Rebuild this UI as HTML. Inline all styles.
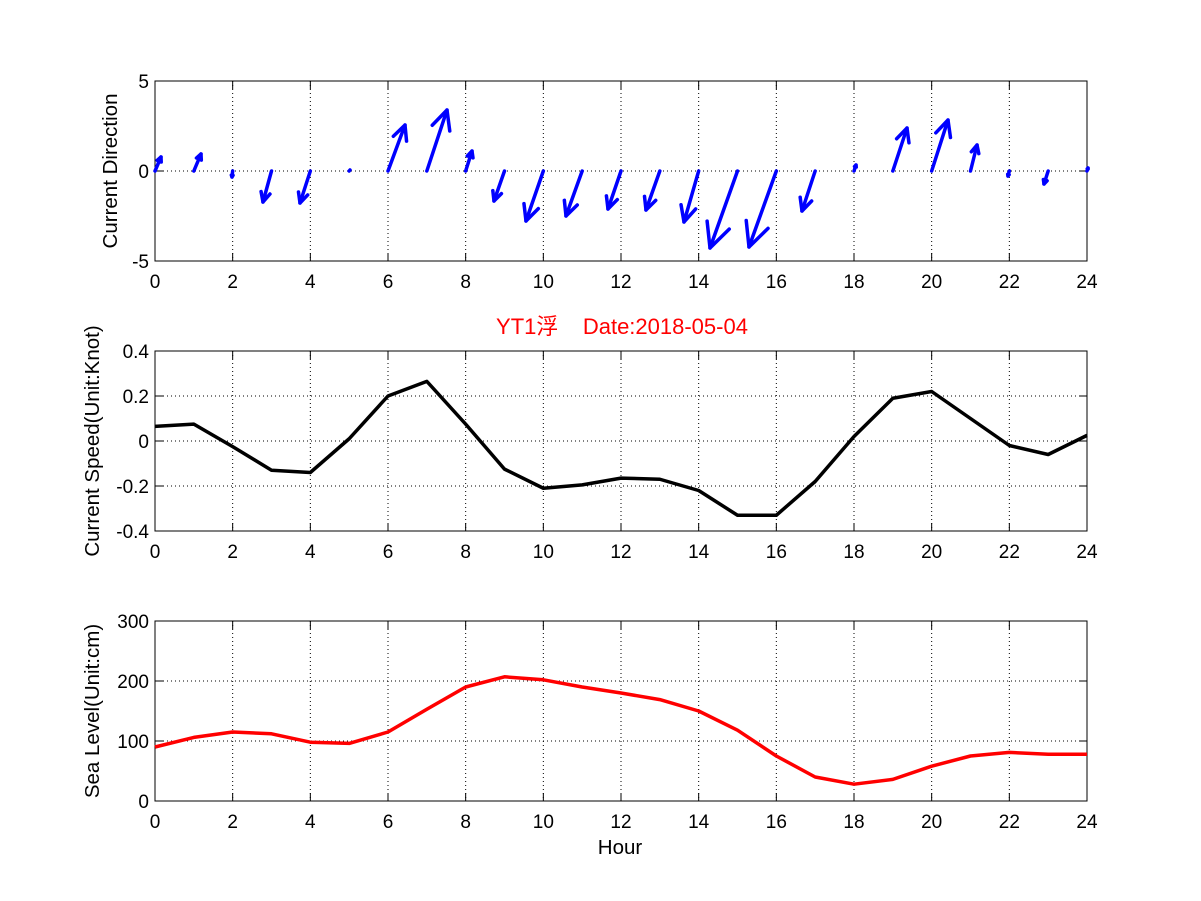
<!DOCTYPE html>
<html><head><meta charset="utf-8"><style>
html,body{margin:0;padding:0;background:#fff;}
svg{display:block;font-family:"Liberation Sans","Noto Sans CJK SC",sans-serif;}
</style></head><body>
<svg id="s" width="1201" height="901" viewBox="0 0 1201 901" xmlns="http://www.w3.org/2000/svg">
<rect width="1201" height="901" fill="#fff"/>
<g id="g"></g>
<g font-size="19" fill="#000">
<text x="149" y="88" text-anchor="end">5</text>
<text x="149" y="178" text-anchor="end">0</text>
<text x="149" y="268" text-anchor="end">-5</text>
<text x="149" y="358" text-anchor="end">0.4</text>
<text x="149" y="403" text-anchor="end">0.2</text>
<text x="149" y="448" text-anchor="end">0</text>
<text x="149" y="493" text-anchor="end">-0.2</text>
<text x="149" y="538" text-anchor="end">-0.4</text>
<text x="149" y="628" text-anchor="end">300</text>
<text x="149" y="688" text-anchor="end">200</text>
<text x="149" y="748" text-anchor="end">100</text>
<text x="149" y="808" text-anchor="end">0</text>
</g>
<g font-size="20.5" fill="#000">
<text transform="translate(117,171) rotate(-90)" text-anchor="middle">Current Direction</text>
<text transform="translate(99,441) rotate(-90)" text-anchor="middle">Current Speed(Unit:Knot)</text>
<text transform="translate(99,711) rotate(-90)" text-anchor="middle">Sea Level(Unit:cm)</text>
<text x="620" y="854" text-anchor="middle">Hour</text>
</g>
<text x="622" y="334" text-anchor="middle" font-size="22" fill="#f00" xml:space="preserve">YT1浮    Date:2018-05-04</text>
<g id="xt" font-size="19" text-anchor="middle"></g>
</svg>
<script>
var g=document.getElementById('g'),ns='http://www.w3.org/2000/svg';
function el(t,a){var e=document.createElementNS(ns,t);for(var k in a)e.setAttribute(k,a[k]);g.appendChild(e);return e;}
var L=155,R=1087,sx=(R-L)/24;
var axes=[[81,261,[81,171,261]],[351,531,[351,396,441,486,531]],[621,801,[621,681,741,801]]];
var xt=document.getElementById('xt');
axes.forEach(function(a){
 var T=a[0],B=a[1];
 for(var i=2;i<24;i+=2){var x=L+i*sx;el('line',{x1:x,y1:T,x2:x,y2:B,stroke:'#000','stroke-width':1,'stroke-dasharray':'1,3'});}
 a[2].forEach(function(y){if(y>T&&y<B)el('line',{x1:L,y1:y,x2:R,y2:y,stroke:'#000','stroke-width':1,'stroke-dasharray':'1,3'});});
 el('rect',{x:L,y:T,width:R-L,height:B-T,fill:'none',stroke:'#000','stroke-width':1});
 for(var i=0;i<=24;i+=2){var x=L+i*sx;
  el('line',{x1:x,y1:B,x2:x,y2:B-8,stroke:'#000'});el('line',{x1:x,y1:T,x2:x,y2:T+8,stroke:'#000'});
  var t=document.createElementNS(ns,'text');t.setAttribute('x',x);t.setAttribute('y',B+27);t.textContent=i;xt.appendChild(t);}
 a[2].forEach(function(y){el('line',{x1:L,y1:y,x2:L+8,y2:y,stroke:'#000'});el('line',{x1:R,y1:y,x2:R-8,y2:y,stroke:'#000'});});
});
var tips=[[161,157],[201,154],[232,177],[263,202],[300,203],[350,170],[405,125],[447,110],[472,151],[494,201],[526,221],[566,216],[608,209],[646,210],[684,222],[710,248],[749,247],[802,211],[856,165],[907,128],[948,120],[977,145],[1008,176],[1044,184],[1088,168]];
tips.forEach(function(p,i){
 var x0=L+i*sx,y0=171,dx=p[0]-x0,dy=p[1]-y0;
 el('line',{x1:x0,y1:y0,x2:p[0],y2:p[1],stroke:'#0000ff','stroke-width':3.5,'stroke-linecap':'round'});
 var len=Math.hypot(dx,dy);if(len<3)return;
 var ang=Math.atan2(dy,dx),h=len*0.33,s=0.45;
 var d='M'+(p[0]-h*Math.cos(ang-s))+','+(p[1]-h*Math.sin(ang-s))+' L'+p[0]+','+p[1]+' L'+(p[0]-h*Math.cos(ang+s))+','+(p[1]-h*Math.sin(ang+s));
 el('path',{d:d,fill:'none',stroke:'#0000ff','stroke-width':3.5,'stroke-linecap':'round','stroke-linejoin':'round'});
});
var sp=[0.065,0.075,-0.025,-0.13,-0.14,0.01,0.2,0.265,0.075,-0.125,-0.21,-0.195,-0.165,-0.17,-0.22,-0.33,-0.33,-0.18,0.02,0.19,0.22,0.1,-0.02,-0.06,0.025];
el('polyline',{points:sp.map(function(v,i){return (L+i*sx)+','+(441-v*225);}).join(' '),fill:'none',stroke:'#000','stroke-width':3.5,'stroke-linejoin':'round'});
var sl=[90,106,115,112,98,96,115,153,190,207,202,190,180,169,150,118,75,40,28,36,58,75,81,78,78];
el('polyline',{points:sl.map(function(v,i){return (L+i*sx)+','+(801-v*0.6);}).join(' '),fill:'none',stroke:'#f00','stroke-width':3.5,'stroke-linejoin':'round'});
</script>
</body></html>
